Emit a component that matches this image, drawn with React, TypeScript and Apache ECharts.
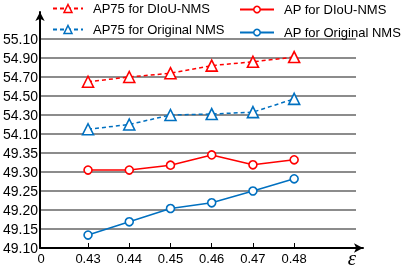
import React, { useEffect, useRef } from "react";
import * as echarts from "echarts";

const xValues = [0.43, 0.44, 0.45, 0.46, 0.47, 0.48];
const ap75Diou = [54.65, 54.70, 54.74, 54.82, 54.86, 54.91];
const ap75Orig = [54.15, 54.20, 54.30, 54.31, 54.33, 54.47];
const apDiou = [49.305, 49.305, 49.318, 49.345, 49.319, 49.332];
const apOrig = [49.134, 49.169, 49.204, 49.219, 49.25, 49.282];
const yTickLabels = ["49.10", "49.15", "49.20", "49.25", "49.30", "49.35", "54.10", "54.30", "54.50", "54.70", "54.90", "55.10"];
const xMin = 0.4186;
const xMax = 0.495;

const RED = "#ff0000";
const BLUE = "#0070c0";
const FONT = "'Liberation Sans', Arial, sans-serif";

// broken axis: lower segment 49.10-49.35 step 0.05, upper segment 54.10-55.10 step 0.2
const toIdx = (v: number) => (v > 50 ? 6 + (v - 54.1) / 0.2 : (v - 49.1) / 0.05);

const mk = (vals: number[]) => xValues.map((x, i) => [x, toIdx(vals[i])]);

export default function App() {
  const ref = useRef<HTMLDivElement>(null);
  useEffect(() => {
    if (!ref.current) return;
    const chart = echarts.init(ref.current, undefined, { renderer: "svg" });
    const lineSeries = (name: string, vals: number[], color: string, dashed: boolean, symbol: string, size: number) => ({
      name,
      type: "line",
      xAxisIndex: 0,
      yAxisIndex: 0,
      data: mk(vals),
      color,
      symbol,
      symbolSize: size,
      lineStyle: { color, width: 1.5, type: dashed ? [4, 3] : "solid" },
      itemStyle: { color: "#fff", borderColor: color, borderWidth: 1.6 },
      z: 5,
    });
    chart.setOption({
      animation: false,
      grid: [
        { left: 40, top: 39, right: 51, bottom: 22 },
        { left: 40, top: 12, right: 44, bottom: 22 },
      ],
      legend: [
        {
          left: 52,
          top: 2,
          orient: "vertical",
          padding: 0,
          itemWidth: 30,
          itemHeight: 10,
          itemGap: 8,
          textStyle: { fontSize: 13, fontFamily: FONT, color: "#000", padding: [0, 0, 0, 5] },
          data: [
            { name: "AP75 for DIoU-NMS", itemStyle: { borderWidth: 1.5 } },
            { name: "AP75 for Original NMS", itemStyle: { borderWidth: 1.5 } },
          ],
        },
        {
          left: 239,
          top: 3,
          orient: "vertical",
          padding: 0,
          itemWidth: 34,
          itemHeight: 8,
          itemGap: 10,
          textStyle: { fontSize: 13, fontFamily: FONT, color: "#000", padding: [0, 0, 0, 5] },
          data: [
            { name: "AP for DIoU-NMS", itemStyle: { borderWidth: 1.5 } },
            { name: "AP for Original NMS", itemStyle: { borderWidth: 1.5 } },
          ],
        },
      ],
      xAxis: [
        {
          type: "value",
          gridIndex: 0,
          min: xMin,
          max: xMax,
          axisLine: { show: false },
          splitLine: { show: false },
          axisTick: { show: true, inside: true, length: 5, customValues: xValues, lineStyle: { color: "#000", width: 1 } },
          axisLabel: {
            customValues: [xMin, ...xValues],
            formatter: (v: number) => (v < 0.425 ? "0" : v.toFixed(2)),
            fontSize: 13,
            fontFamily: FONT,
            color: "#000",
            margin: 4,
          },
        },
        {
          type: "value",
          gridIndex: 1,
          min: 0,
          max: 1,
          axisLine: { show: true, symbol: ["none", "arrow"], symbolSize: [7, 9], lineStyle: { color: "#000", width: 2 } },
          axisTick: { show: false },
          axisLabel: { show: false },
          splitLine: { show: false },
          name: "ε",
          nameLocation: "end",
          nameGap: -11,
          nameTextStyle: { fontFamily: "'Liberation Serif', 'DejaVu Serif', serif", fontStyle: "italic", fontSize: 21, color: "#000", align: "center", verticalAlign: "top", lineHeight: 20, padding: [0, 0, 0, 0] },
        },
      ],
      yAxis: [
        {
          type: "value",
          gridIndex: 0,
          min: 0,
          max: 11,
          interval: 1,
          axisLine: { show: false },
          axisTick: { show: false },
          splitLine: { show: true, lineStyle: { color: "#8c8c8c", width: 2 } },
          axisLabel: {
            formatter: (v: number) => yTickLabels[Math.round(v)] ?? "",
            fontSize: 14,
            fontFamily: FONT,
            color: "#000",
            margin: 3,
          },
        },
        {
          type: "value",
          gridIndex: 1,
          min: 0,
          max: 1,
          axisLine: { show: true, symbol: ["none", "arrow"], symbolSize: [7, 9], lineStyle: { color: "#000", width: 2 } },
          axisTick: { show: false },
          axisLabel: { show: false },
          splitLine: { show: false },
        },
      ],
      series: [
        lineSeries("AP75 for DIoU-NMS", ap75Diou, RED, true, "triangle", 11),
        lineSeries("AP75 for Original NMS", ap75Orig, BLUE, true, "triangle", 11),
        lineSeries("AP for DIoU-NMS", apDiou, RED, false, "circle", 8),
        lineSeries("AP for Original NMS", apOrig, BLUE, false, "circle", 8),
      ],
    });
    return () => chart.dispose();
  }, []);
  return <div ref={ref} style={{ position: "fixed", left: 0, top: 0, width: 407, height: 270 }} />;
}
